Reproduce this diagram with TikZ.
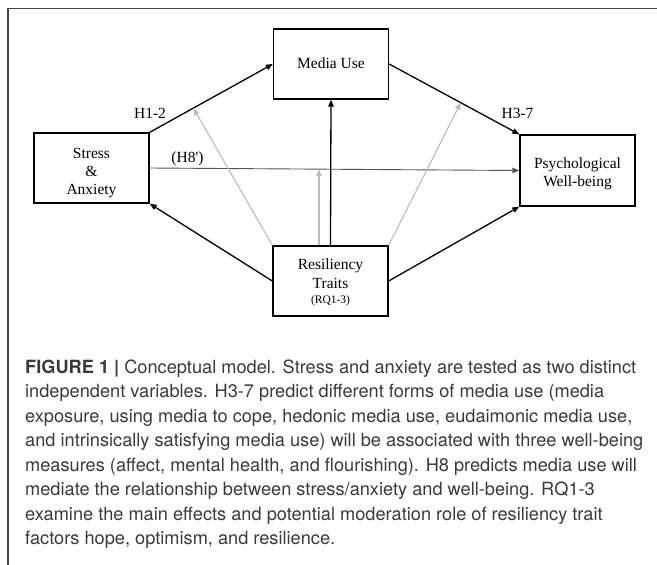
\documentclass[tikz,border=0pt]{standalone}
\usepackage{fontspec}
\setmainfont{Liberation Serif}
\newfontfamily\capfont{TeX Gyre Heros}
\usetikzlibrary{arrows.meta,calc}
\definecolor{capgray}{HTML}{3A3A3A}
\definecolor{framegray}{HTML}{444444}
\definecolor{lightline}{HTML}{BBBBBB}
\definecolor{midline}{HTML}{555555}
\tikzset{
  boxnode/.style={draw=black, line width=1.3pt, minimum width=115pt, minimum height=70pt, inner sep=0pt},
  boxtext/.style={anchor=base, inner sep=0pt, align=center, font=\fontsize{15.5}{18}\selectfont},
  blackarrow/.style={draw=black, line width=1.3pt, -{Triangle[length=7pt,width=5.5pt]}},
  thinarrow/.style={draw=midline, line width=0.9pt, -{Triangle[length=7pt,width=5.5pt]}},
  grayarrow/.style={draw=lightline, line width=1.1pt, -{Triangle[length=7pt,width=5.5pt]}},
  labelnode/.style={inner sep=0pt, font=\fontsize{15.5}{18.5}\selectfont},
  framestroke/.style={draw=framegray, line width=1.6pt}
}
\begin{document}
\begin{tikzpicture}[x=1pt, y=-1pt]
\useasboundingbox (0,0) rectangle (657,565);
\coordinate (ftr) at (657,8.5);
\coordinate (ftl) at (8,8.5);
\coordinate (fbl) at (8,565);
\draw[framestroke] (ftr) -- (ftl) -- (fbl);

\node[boxnode] (media) at (331,64) {};
\node[boxnode] (stress) at (91.5,168) {};
\node[boxnode, minimum height=71pt] (psych) at (577.5,170.5) {};
\node[boxnode] (resil) at (330.5,281) {};

\node[boxtext] (mediat) at (331,68.5) {Media Use};
\node[boxtext] (stresst) at (91.5,194.5) {Stress\\\&\\Anxiety};
\node[boxtext] (psycht) at (577.5,186) {Psychological\\Well-being};
\node[boxtext] (resilt) at (330.5,288) {Resiliency\\[1pt]Traits};
\node[boxtext, font=\fontsize{11.5}{13}\selectfont] (rqt) at (330.5,303.5) {(RQ1-3)};

\draw[blackarrow] (stress.north east) -- (media.west);
\draw[blackarrow] (media.east) -- (psych.north west);
\draw[blackarrow] (resil.north) -- (media.south);
\draw[thinarrow] (stress.east) -- (psych.west);
\draw[blackarrow] (resil.west) -- (stress.south east);
\draw[blackarrow] (resil.east) -- (psych.south west);

\coordinate (g1) at ($(stress.north east)!0.355!(media.west)$);
\coordinate (g2) at ($(media.east)!0.55!(psych.north west)$);
\coordinate (g3) at ($(stress.east)!0.458!(psych.west)$);
\coordinate (g3s) at (g3 |- resil.north);
\draw[grayarrow] (resil.north west) -- (g1);
\draw[grayarrow] (resil.north east) -- (g2);
\draw[grayarrow] (g3s) -- (g3);

\node[labelnode] (h12) at (150,113) {H1-2};
\node[labelnode] (h37) at (517.5,113) {H3-7};
\node[labelnode] (h8) at (187.5,159) {\addfontfeatures{Ligatures=TeXOff}(H8')};

\node[anchor=base west, inner sep=0pt, align=left, text=capgray, font=\capfont\fontsize{18.2}{24.5}\selectfont] (caption) at (25,544.5)
{\textbf{FIGURE 1 |} Conceptual model. Stress and anxiety are tested as two distinct\\
independent variables. H3-7 predict different forms of media use (media\\
exposure, using media to cope, hedonic media use, eudaimonic media use,\\
and intrinsically satisfying media use) will be associated with three well-being\\
measures (affect, mental health, and flourishing). H8 predicts media use will\\
mediate the relationship between stress/anxiety and well-being. RQ1-3\\
examine the main effects and potential moderation role of resiliency trait\\
factors hope, optimism, and resilience.};
\end{tikzpicture}
\end{document}
